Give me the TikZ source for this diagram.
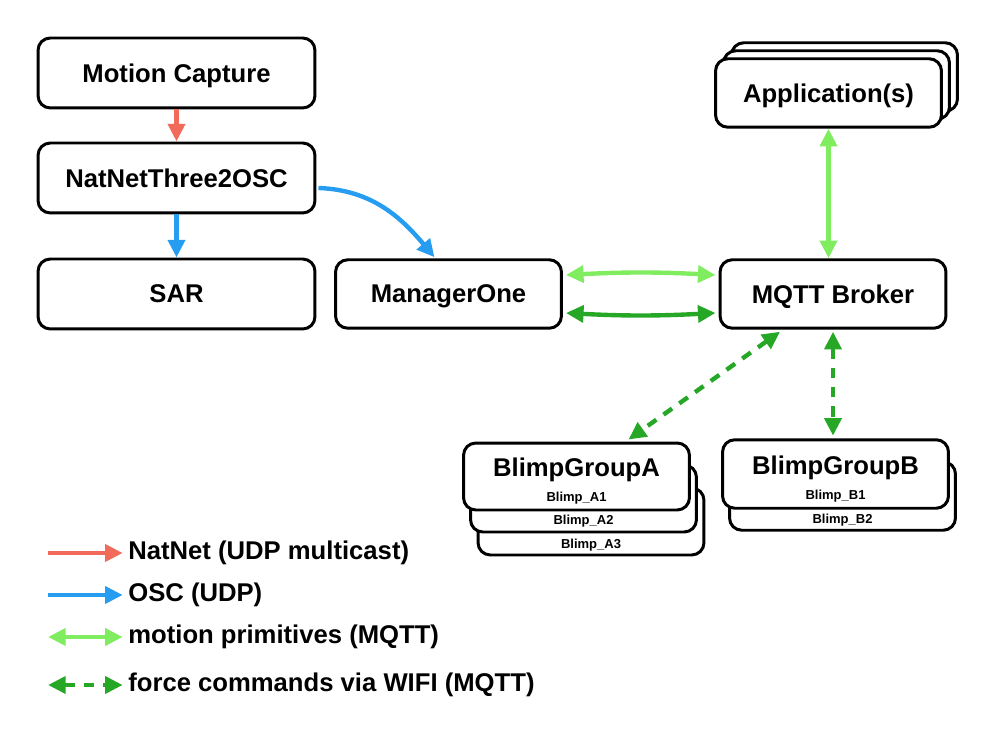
\documentclass[tikz,border=0pt]{standalone}
\usepackage{fontspec}
\setmainfont{Liberation Sans}
\usetikzlibrary{arrows.meta,calc}

\definecolor{natnetred}{RGB}{242,106,90}
\definecolor{oscblue}{RGB}{38,157,240}
\definecolor{primgreen}{RGB}{128,236,96}
\definecolor{forcegreen}{RGB}{38,168,38}

\begin{document}
\begin{tikzpicture}[x=0.02cm,y=-0.02cm,
		box/.style={draw, line width=1.7pt, rounded corners=7pt, fill=white, text depth=0pt,
			minimum width=4.52cm, minimum height=1.37cm, font=\fontsize{14.6}{17}\selectfont\bfseries},
		widebox/.style={box, minimum width=5.54cm, minimum height=1.4cm},
		title/.style={font=\fontsize{14.6}{17}\selectfont\bfseries, inner sep=0pt},
		blimp/.style={font=\fontsize{7.4}{9}\selectfont\bfseries, inner sep=0pt},
		oneway/.style={line width=2.5pt, -{Triangle[length=10pt,width=9.5pt]}},
		twoway/.style={line width=2.5pt, {Triangle[length=10pt,width=9.5pt]}-{Triangle[length=10pt,width=9.5pt]}},
		forceway/.style={twoway, forcegreen, dash pattern=on 6pt off 5pt}]
		\useasboundingbox (0,0) rectangle (1000,739);
		
		% left column
		\node[widebox] (mocap) at (176.5,73) {Motion Capture};
		\node[widebox] (natnet) at (176.5,178) {NatNetThree2OSC};
		\node[widebox] (sar) at (176.5,294) {SAR};
		\node[box] (manager) at (448.5,294) {ManagerOne};
		\node[box] (broker) at (833,294) {MQTT Broker};
		
		% applications, stacked
		\node[box] (apps3) at (844.5,77) {};
		\node[box] (apps2) at (836.5,85) {};
		\node[box] (apps) at (828.5,93) {Application(s)};
		
		% blimp groups
		\node[box, minimum height=1.34cm] (groupa3) at (591,521.5) {};
		\node[blimp] (a3) at (591,545) {Blimp\_A3};
		\node[box, minimum height=1.34cm] (groupa2) at (583.5,498.5) {};
		\node[blimp] (a2) at (583.5,521) {Blimp\_A2};
		\node[box, minimum height=1.34cm] (groupa) at (576.5,476.5) {};
		\node[title] (titlea) at (576.5,470) {BlimpGroupA};
		\node[blimp] (a1) at (576.5,498) {Blimp\_A1};
		
		\node[box] (groupb2) at (842.5,496) {};
		\node[blimp] (b2) at (842.5,520) {Blimp\_B2};
		\node[box] (groupb) at (835.5,474) {};
		\node[title] (titleb) at (835.5,468) {BlimpGroupB};
		\node[blimp] (b1) at (835.5,496) {Blimp\_B1};
		
		% connections
		\draw[oneway, natnetred] (mocap) -- (natnet);
		\draw[oneway, oscblue] (natnet) -- (sar);
		\draw[oneway, oscblue] ($(natnet.east)+(2,10)$) to[out=-2, in=130] ($(manager.north)+(-14,-1)$);
		\draw[twoway, primgreen] ($(manager.east)+(3,-19)$) to[bend left=3] ($(broker.west)+(-3,-19)$);
		\draw[twoway, forcegreen] ($(manager.east)+(3,19)$) to[bend right=3] ($(broker.west)+(-3,19)$);
		\draw[twoway, primgreen] (apps.south) -- (apps.south |- broker.north);
		\draw[forceway] ($(broker.south)+(-53,2)$) -- ($(groupa.north)+(52,-2)$);
		\draw[forceway] ($(broker.south)+(0,2)$) -- ($(broker.south)+(0,106)$);
		
		% legend
		\node[title, anchor=west] (leg1) at (128,553) {NatNet (UDP multicast)};
		\node[title, anchor=west] (leg2) at (128,595) {OSC (UDP)};
		\node[title, anchor=west] (leg3) at (128,637) {motion primitives (MQTT)};
		\node[title, anchor=west] (leg4) at (128,685) {force commands via WIFI (MQTT)};
		\coordinate (s1) at (48,553);
		\coordinate (s2) at (48,595);
		\coordinate (s3) at (48,637);
		\coordinate (s4) at (48,685);
		\draw[oneway, natnetred, shorten >=3pt] (s1) -- (leg1.west);
		\draw[oneway, oscblue, shorten >=3pt] (s2) -- (leg2.west);
		\draw[twoway, primgreen, shorten >=3pt] (s3) -- (leg3.west);
		\draw[forceway, shorten >=3pt] (s4) -- (leg4.west);
\end{tikzpicture}
\end{document}
